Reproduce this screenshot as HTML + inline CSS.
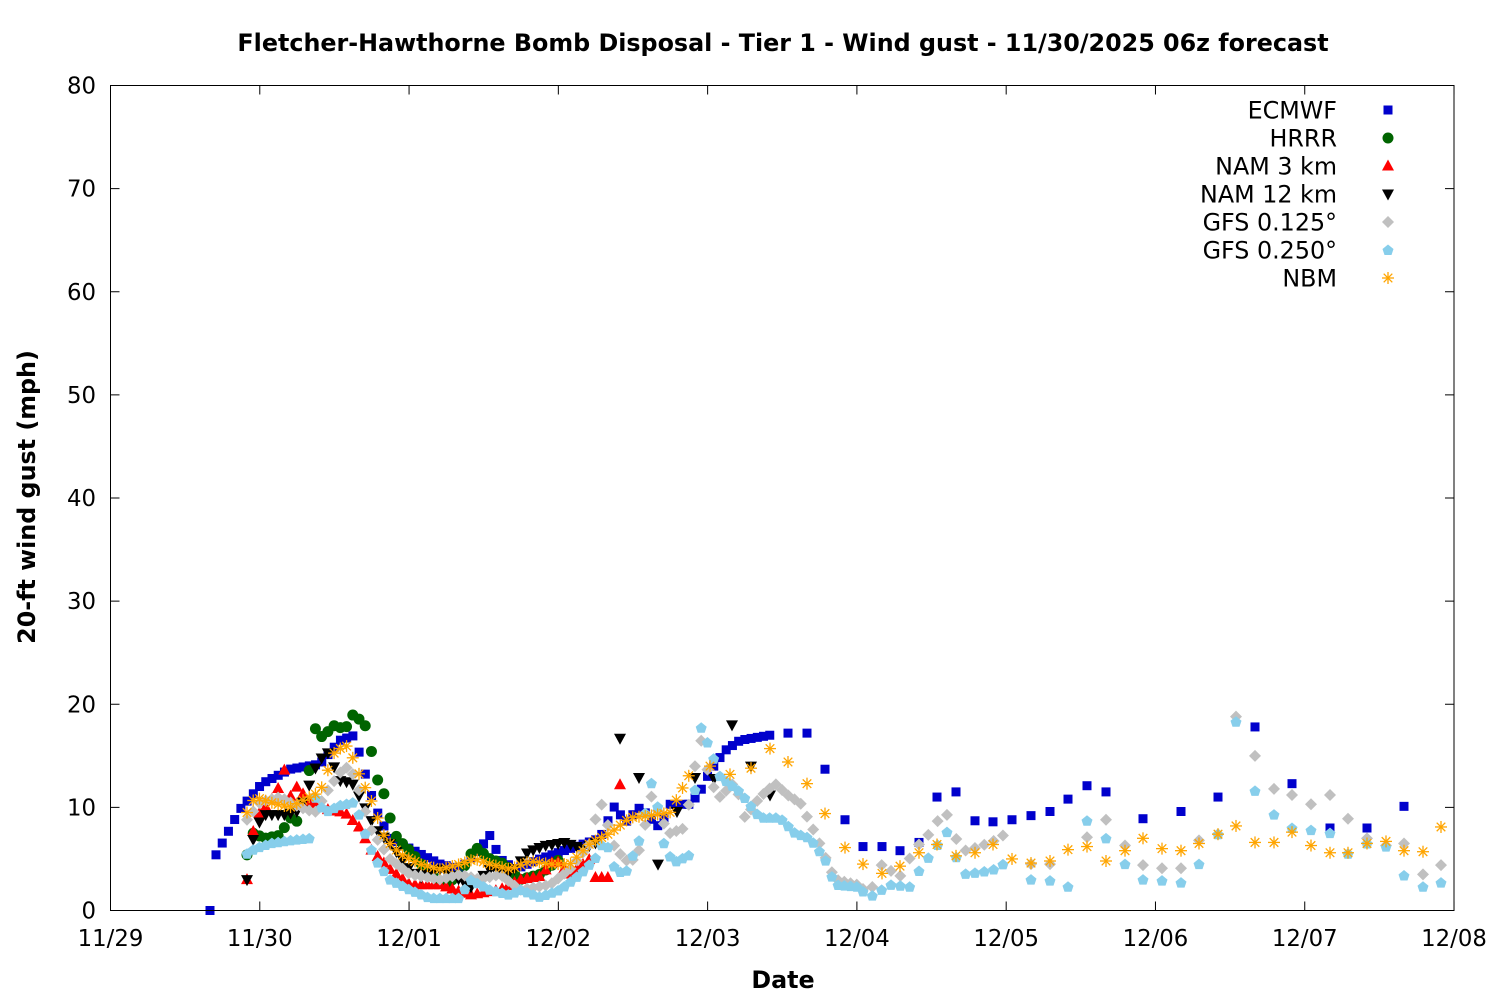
<!DOCTYPE html>
<html><head><meta charset="utf-8"><style>
html,body{margin:0;padding:0;background:#fff}
svg{display:block}
text{font-family:"DejaVu Sans","Liberation Sans",sans-serif}
</style></head><body>
<svg id="s" width="1500" height="1000" xmlns="http://www.w3.org/2000/svg">
<rect width="1500" height="1000" fill="#fff"/>
<text x="783" y="51" text-anchor="middle" font-size="23.8" font-weight="bold">Fletcher-Hawthorne Bomb Disposal - Tier 1 - Wind gust - 11/30/2025 06z forecast</text>
<text x="783" y="988" text-anchor="middle" font-size="23.8" font-weight="bold">Date</text>
<text transform="translate(35,497) rotate(-90)" text-anchor="middle" font-size="23.8" font-weight="bold">20-ft wind gust (mph)</text>
<g id="axes"></g>
<g id="pts"></g>
<rect x="110.5" y="85.5" width="1343.5" height="825" fill="none" stroke="#000" stroke-width="1"/>
</svg>
<script>
var NS="http://www.w3.org/2000/svg";
var ax=document.getElementById('axes'),pg=document.getElementById('pts');
function el(p,tag,a,t){var e=document.createElementNS(NS,tag);for(var k in a)e.setAttribute(k,a[k]);if(t!=null)e.textContent=t;p.appendChild(e);return e;}
var X0=110.5,X1=1454,Y0=910.5,Y1=85.5;
function Y(v){return Y0-(Y0-Y1)*v/80;}
for(var i=0;i<=8;i++){var y=Y(i*10);
 el(ax,'line',{x1:X0,y1:y,x2:X0+9,y2:y,stroke:'#000'});
 el(ax,'line',{x1:X1-9,y1:y,x2:X1,y2:y,stroke:'#000'});
 el(ax,'text',{x:96,y:y+8,'text-anchor':'end','font-size':22.8},String(i*10));}
var days=['11/29','11/30','12/01','12/02','12/03','12/04','12/05','12/06','12/07','12/08'];
for(var d=0;d<10;d++){var x=110.5+d*149.28;
 el(ax,'line',{x1:x,y1:Y0,x2:x,y2:Y0-9,stroke:'#000'});
 el(ax,'line',{x1:x,y1:Y1,x2:x,y2:Y1+9,stroke:'#000'});
 el(ax,'text',{x:x,y:946,'text-anchor':'middle','font-size':22.8},days[d]);}
function interp(k,x){for(var i=0;i<k.length-1;i++){if(x>=k[i][0]&&x<=k[i+1][0]){var t=(x-k[i][0])/(k[i+1][0]-k[i][0]);return k[i][1]+t*(k[i+1][1]-k[i][1]);}}return null;}
function sample(k,a,b,st){var o=[];for(var x=a;x<=b+0.01;x+=st){var v=interp(k,x);if(v!=null)o.push([x,v]);}return o;}
var H=6.222;
function mk(type,x,v){var y=Y(v);
 if(type=='sq')el(pg,'rect',{x:x-4.5,y:y-4.5,width:9,height:9,fill:'#0000cc'});
 else if(type=='ci')el(pg,'circle',{cx:x,cy:y,r:5.5,fill:'#006400'});
 else if(type=='tu')el(pg,'polygon',{points:(x-6)+','+(y+4.5)+' '+(x+6)+','+(y+4.5)+' '+x+','+(y-6.5),fill:'#ff0000'});
 else if(type=='td')el(pg,'polygon',{points:(x-6)+','+(y-4.5)+' '+(x+6)+','+(y-4.5)+' '+x+','+(y+6.5),fill:'#000'});
 else if(type=='di')el(pg,'polygon',{points:x+','+(y-6)+' '+(x+6)+','+y+' '+x+','+(y+6)+' '+(x-6)+','+y,fill:'#c0c0c0'});
 else if(type=='hx')el(pg,'polygon',{points:(x-5.5)+','+(y-1)+' '+x+','+(y-5.5)+' '+(x+5.5)+','+(y-1)+' '+(x+3.5)+','+(y+5)+' '+(x-3.5)+','+(y+5),fill:'#87ceeb'});
 else if(type=='as'){var s=6,g=el(pg,'g',{stroke:'#ffa500','stroke-width':1.3});
  el(g,'line',{x1:x-s,y1:y,x2:x+s,y2:y});el(g,'line',{x1:x,y1:y-s,x2:x,y2:y+s});
  el(g,'line',{x1:x-4.3,y1:y-4.3,x2:x+4.3,y2:y+4.3});el(g,'line',{x1:x-4.3,y1:y+4.3,x2:x+4.3,y2:y-4.3});}
}
function plot(type,pts){pts.forEach(function(p){mk(type,p[0],p[1]);});}
var ek=[[216,5.4],[240,9.8],[262,12.3],[290,13.7],[320,14.2],[340,16.5],[355,17],[360,15],[375,10],[390,7],[410,6],[440,4.5],[460,4],[480,6],[490,7.3],[500,5],[515,4],[540,5],[570,6],[600,7],[615,10.2],[625,8.5],[640,10],[660,8],[670,10.3],[690,10.3],[700,11.5],[710,13.5],[725,15.5],[740,16.5],[770,17],[790,17.2],[807,17.2]];
var ec=[[210,0]].concat(sample(ek,216,770,H)).concat([[788,17.2],[807,17.2],[825,13.7],[845,8.8],[863,6.2],[882,6.2],[900,5.8],[919,6.6],[937,11],[956,11.5],[975,8.7],[993,8.6],[1012,8.8],[1031,9.2],[1050,9.6],[1068,10.8],[1087,12.1],[1106,11.5],[1143,8.9],[1181,9.6],[1218,11],[1255,17.8],[1292,12.3],[1330,8],[1367,8],[1404,10.1]]);
plot('sq',ec);
var hk=[[247,5.4],[253,7.5],[265,7],[280,7.3],[290,9],[300,8.5],[310,14],[316,18],[322,16.8],[335,18],[345,17.5],[352,19],[360,18.5],[365,18],[372,15.2],[378,12.5],[384,11.3],[390,9],[397,7],[410,5.8],[430,3.5],[445,2.5],[460,3.5],[475,6.2],[490,5],[505,4.5],[520,3],[540,3.5],[560,5]];
plot('ci',sample(hk,247,560,H));
var n3=[[247,3],[255,9],[270,10.5],[278,11.8],[285,13.8],[290,11],[297,12],[310,10.5],[330,9.7],[345,9.5],[360,8],[370,6],[390,4],[410,2.5],[440,2.5],[470,1.5],[500,2],[520,3],[540,3.3],[555,5],[570,3.5],[590,5],[595,3.2],[610,3.2]];
plot('tu',sample(n3,247,610,H).concat([[620,12.2]]));
var n12=[[247,3],[255,8],[265,9.3],[285,9.3],[300,9.7],[318,14.5],[328,15.3],[340,12.6],[352,12.4],[365,10],[375,8],[390,6.5],[410,4],[420,3.2],[440,4],[460,3],[470,2.2],[490,4],[510,3.5],[528,5.7],[545,6.3],[565,6.6],[583,6],[601,6.8]];
plot('td',sample(n12,247,601,H).concat([[620,16.7],[639,12.9],[658,4.5],[677,9.6],[695,12.9],[714,12.8],[732,18],[751,14],[770,11.2]]));
var gk=[[247,8.8],[260,10.5],[280,11],[300,10],[315,9.5],[330,12],[345,14],[355,13],[370,8],[390,5],[410,3.5],[440,3],[460,3.5],[480,3],[500,3.5],[520,2],[550,2.5],[570,4],[590,6.5],[600,10.8],[615,6],[630,4.5],[640,6],[652,11.3],[660,9],[670,7.5],[685,8],[700,17],[710,12.5],[720,11],[735,12.5],[745,9],[760,11],[775,12.3],[790,11],[800,10.5],[815,7.5],[835,3],[857,2.5],[870,1.6],[880,4.5],[900,3.3],[915,6],[930,7.5],[945,9.8],[955,7.1],[965,5.8],[980,6.2],[995,6.8],[1012,7.8]];
plot('di',sample(gk,247,857,H).concat(sample(gk,863,1012,9.33)).concat([[1031,4.5],[1050,4.5],[1087,7.1],[1106,8.8],[1125,6.3],[1143,4.4],[1162,4.1],[1181,4.1],[1199,6.8],[1218,7.4],[1236,18.8],[1255,15],[1274,11.8],[1292,11.2],[1311,10.3],[1330,11.2],[1348,8.9],[1367,7],[1386,6.3],[1404,6.5],[1423,3.5],[1441,4.4]]));
var bk=[[247,5.5],[255,6],[270,6.5],[290,6.8],[310,7],[315,11],[325,9.5],[340,10.2],[355,10.5],[365,7.5],[375,5],[390,3],[410,2],[430,1.2],[460,1.2],[470,3],[490,2],[510,1.5],[520,2],[540,1.3],[560,2],[580,3.5],[595,5],[605,7],[615,4],[625,3.5],[640,7],[652,12.6],[660,9],[665,5.8],[675,4.7],[690,5.4],[700,18],[710,15.7],[720,13],[740,11.5],[760,9],[780,9],[795,7.5],[810,7],[825,5],[835,2.5],[857,2.3],[870,1.3],[890,2.5],[910,2.3],[920,4],[935,6],[950,8],[960,3.5],[980,3.7],[995,4],[1012,5]];
plot('hx',sample(bk,247,857,H).concat(sample(bk,863,1012,9.33)).concat([[1031,3],[1050,2.9],[1068,2.3],[1087,8.7],[1106,7],[1125,4.5],[1143,3],[1162,2.9],[1181,2.7],[1199,4.5],[1218,7.4],[1236,18.3],[1255,11.6],[1274,9.3],[1292,8],[1311,7.8],[1330,7.5],[1348,5.5],[1367,6.5],[1386,6.2],[1404,3.4],[1423,2.3],[1441,2.7]]));
var nk=[[247,9.5],[255,11],[270,10.5],[290,10],[305,10.8],[320,11.5],[335,15.5],[348,16],[360,13],[372,10.5],[385,7],[400,5.5],[420,4.5],[440,4],[460,4.5],[475,5],[490,4.5],[510,4],[530,4.8],[550,4.5],[570,4.5],[590,6.5],[610,7.5],[630,9],[650,9.2],[670,9.5],[690,13.3]];
plot('as',sample(nk,247,690,H).concat([[710,14],[730,13.2],[751,13.8],[770,15.7],[788,14.4],[807,12.3],[825,9.4],[845,6.1],[863,4.5],[882,3.6],[900,4.3],[919,5.6],[937,6.4],[956,5.3],[975,5.6],[993,6.4],[1012,5],[1031,4.6],[1050,4.8],[1068,5.9],[1087,6.2],[1106,4.8],[1125,5.8],[1143,7],[1162,6],[1181,5.8],[1199,6.5],[1218,7.4],[1236,8.2],[1255,6.6],[1274,6.6],[1292,7.6],[1311,6.3],[1330,5.6],[1348,5.6],[1367,6.5],[1386,6.7],[1404,5.8],[1423,5.7],[1441,8.1]]));
var names=['ECMWF','HRRR','NAM 3 km','NAM 12 km','GFS 0.125°','GFS 0.250°','NBM'],types=['sq','ci','tu','td','di','hx','as'];
for(var i=0;i<7;i++){var yy=110+i*28;
 el(pg,'text',{x:1337,y:yy+8.5,'text-anchor':'end','font-size':23.8},names[i]);
 mk(types[i],1388,80*(Y0-yy)/(Y0-Y1));}
</script>
</body></html>
